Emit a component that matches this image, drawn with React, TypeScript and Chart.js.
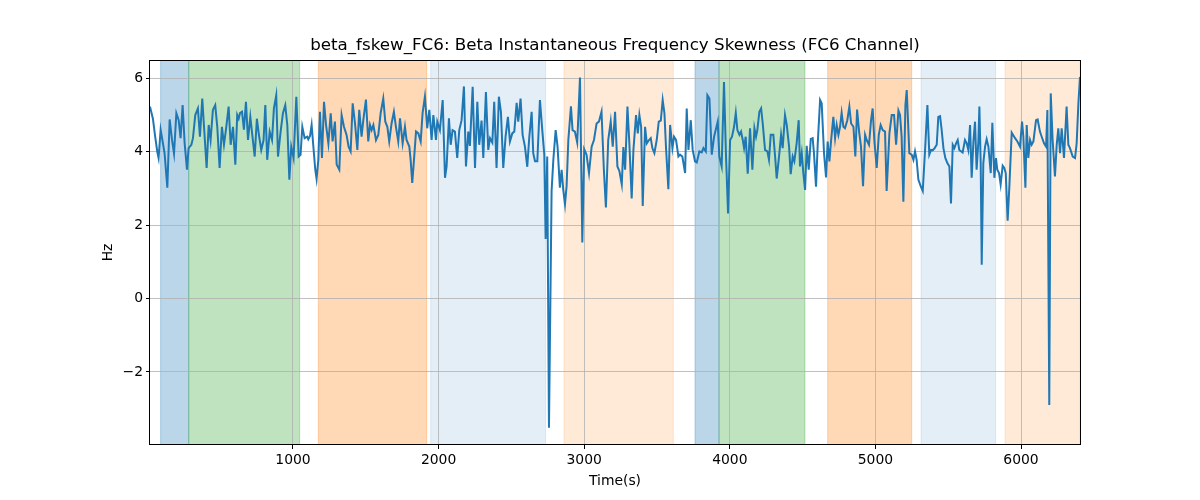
import React, { useEffect, useRef } from "react";
import { Chart, registerables } from "chart.js";

Chart.register(...registerables);

const TITLE = "beta_fskew_FC6: Beta Instantaneous Frequency Skewness (FC6 Channel)";
const X_LABEL = "Time(s)";
const Y_LABEL = "Hz";
const X_TICKS = [1000, 2000, 3000, 4000, 5000, 6000];
const Y_TICKS = [-2, 0, 2, 4, 6];
const Y_MIN = -3.99;
const Y_MAX = 6.5;

// time (s) and skewness (Hz), read segment by segment
const TIME_A = [18, 38, 54, 68, 77, 91, 107, 118, 137, 153, 169, 183, 199, 215, 228, 242, 256, 272, 283, 302, 313, 329, 347, 361, 377, 389, 407, 421, 434, 450, 466, 480, 496, 512, 526, 542, 558, 572, 588, 604, 617, 627, 636, 650, 663, 677, 691, 707, 718, 737, 752, 766, 782, 798, 810, 823, 840, 856, 869, 885, 897, 915, 931, 947, 961, 975, 988, 1004, 1023, 1039, 1052, 1064, 1080, 1098];
const HZ_A = [5.23, 4.9, 4.4, 4.0, 3.83, 4.6, 4.23, 3.96, 3.02, 4.88, 4.33, 3.95, 5.05, 4.86, 4.37, 5.27, 4.23, 3.51, 4.1, 4.19, 4.37, 5.0, 5.18, 4.41, 5.45, 4.68, 3.56, 4.73, 4.32, 5.14, 5.27, 4.68, 3.56, 4.68, 4.19, 4.68, 5.23, 4.19, 4.68, 3.65, 5.0, 4.9, 5.05, 5.09, 4.6, 5.36, 4.32, 4.95, 4.55, 3.87, 4.9, 4.46, 4.05, 4.32, 5.27, 3.78, 4.55, 4.32, 5.18, 5.54, 3.87, 4.55, 5.05, 5.27, 4.73, 3.24, 4.14, 3.83, 5.5, 3.87, 3.92, 4.68, 4.37, 4.41];

const TIME_B = [1105, 1117, 1128, 1140, 1153, 1162, 1174, 1185, 1199, 1213, 1227, 1243, 1259, 1272, 1288, 1300, 1318, 1334, 1350, 1368, 1382, 1396, 1410, 1426, 1442, 1455, 1471, 1483, 1501, 1517, 1529, 1540, 1552, 1570, 1586, 1602, 1620, 1634, 1648, 1661, 1677, 1693, 1707, 1723, 1735, 1753, 1769, 1780, 1799, 1808, 1819, 1831, 1845, 1861, 1877, 1890, 1906, 1922, 1936, 1952, 1964, 1982, 1991, 2009, 2028, 2044, 2055, 2071, 2083, 2096, 2112, 2128, 2142];
const HZ_B = [4.34, 4.43, 4.73, 4.14, 3.51, 3.26, 3.78, 5.09, 3.83, 5.36, 4.73, 4.23, 5.05, 4.28, 4.82, 3.65, 3.51, 5.0, 4.68, 4.46, 4.14, 4.01, 5.32, 4.77, 4.05, 5.14, 4.41, 4.86, 5.42, 4.28, 4.73, 4.59, 4.73, 4.32, 4.46, 5.05, 5.45, 4.82, 4.68, 4.28, 4.77, 5.09, 4.68, 4.28, 4.91, 4.23, 4.68, 4.32, 4.14, 3.78, 3.15, 3.78, 4.55, 4.5, 4.28, 5.05, 5.5, 4.64, 5.14, 4.32, 5.0, 4.32, 4.82, 4.59, 5.41, 3.29, 3.6, 4.91, 4.19, 4.59, 4.55, 3.83, 4.59];

const TIME_C = [2158, 2174, 2188, 2204, 2215, 2234, 2250, 2266, 2279, 2295, 2307, 2325, 2341, 2353, 2369, 2382, 2398, 2414, 2428, 2444, 2460, 2476, 2490, 2506, 2520, 2536, 2547, 2563, 2577, 2593, 2609, 2623, 2639, 2650, 2662, 2678, 2696, 2712, 2726, 2735, 2746, 2758, 2776, 2788, 2804, 2817, 2833, 2845, 2856, 2868, 2879, 2891, 2909, 2920, 2936, 2952, 2971, 2987, 3000, 3016, 3033, 3051, 3067, 3085, 3101, 3119, 3135, 3149, 3165];
const HZ_C = [4.86, 5.78, 3.6, 4.55, 4.16, 5.77, 3.56, 5.36, 4.19, 4.85, 3.83, 5.63, 4.05, 4.37, 4.25, 5.36, 3.56, 5.5, 5.09, 3.56, 4.41, 4.95, 4.28, 4.5, 4.55, 5.33, 4.82, 5.45, 4.46, 4.14, 3.59, 4.41, 5.09, 3.96, 3.74, 3.74, 5.41, 4.59, 3.92, 1.62, 3.87, -3.52, 2.93, 3.78, 4.59, 4.14, 3.02, 3.51, 2.97, 2.57, 3.06, 4.32, 5.24, 4.59, 4.55, 4.25, 6.02, 1.53, 4.07, 3.92, 3.42, 4.14, 4.32, 4.77, 4.82, 5.09, 3.51, 2.48, 4.32];

const TIME_D = [3182, 3196, 3212, 3228, 3242, 3258, 3269, 3281, 3297, 3310, 3326, 3338, 3356, 3368, 3379, 3391, 3402, 3418, 3430, 3445, 3457, 3468, 3482, 3498, 3512, 3526, 3539, 3551, 3562, 3578, 3590, 3606, 3617, 3631, 3647, 3658, 3674, 3693, 3704, 3716, 3732, 3745, 3761, 3773, 3791, 3807, 3819, 3835, 3846, 3860, 3876, 3892, 3906, 3917, 3928, 3944, 3960, 3974, 3988, 4002, 4015, 4029, 4041, 4052, 4066, 4077, 4089, 4098, 4109, 4123, 4139, 4155, 4169, 4180, 4189, 4203];
const HZ_D = [4.82, 4.14, 5.09, 3.6, 3.47, 3.11, 4.13, 3.51, 5.23, 4.23, 2.73, 4.05, 5.0, 4.5, 5.0, 4.68, 2.52, 4.68, 4.23, 4.32, 4.37, 4.1, 3.96, 4.32, 4.82, 4.85, 5.41, 5.05, 4.1, 2.98, 4.73, 4.1, 4.41, 4.32, 3.87, 3.92, 3.87, 3.42, 5.18, 4.05, 4.86, 4.05, 3.74, 3.71, 4.01, 3.98, 4.1, 4.01, 5.54, 5.45, 3.92, 4.41, 4.64, 4.82, 3.87, 3.6, 5.9, 3.87, 2.32, 4.32, 4.41, 4.68, 5.06, 4.59, 4.46, 4.55, 4.32, 4.1, 4.41, 3.4, 4.64, 3.51, 4.64, 4.41, 4.59, 5.09];

const TIME_E = [4215, 4226, 4242, 4258, 4269, 4281, 4299, 4311, 4322, 4338, 4352, 4363, 4379, 4391, 4407, 4418, 4432, 4443, 4459, 4473, 4482, 4494, 4505, 4517, 4528, 4542, 4556, 4569, 4578, 4592, 4604, 4620, 4631, 4647, 4661, 4672, 4684, 4695, 4711, 4723, 4734, 4746, 4757, 4768, 4780, 4791, 4807, 4821, 4833, 4849, 4862, 4874, 4888, 4901, 4915, 4929, 4940, 4956, 4970, 4981, 4993, 5009, 5023, 5036, 5050, 5066, 5077, 5096, 5112, 5128, 5142, 5158, 5169, 5180, 5192, 5206, 5215];
const HZ_E = [5.18, 4.77, 4.05, 4.01, 3.78, 4.46, 4.46, 3.87, 3.27, 3.87, 4.46, 4.1, 5.0, 4.73, 4.14, 3.39, 3.87, 3.74, 4.23, 4.86, 3.6, 3.96, 3.42, 2.96, 4.16, 3.51, 4.35, 4.37, 3.96, 3.05, 4.23, 5.41, 5.32, 3.96, 3.3, 4.28, 3.74, 4.28, 4.95, 4.37, 4.73, 4.46, 4.68, 5.06, 4.68, 4.64, 4.86, 5.23, 4.77, 4.68, 3.87, 5.15, 4.55, 4.14, 3.06, 4.46, 4.32, 4.19, 4.86, 5.18, 4.28, 3.56, 4.46, 4.73, 4.59, 4.55, 2.93, 4.5, 5.0, 5.0, 4.19, 5.12, 5.0, 4.41, 2.64, 5.27, 5.68];

const TIME_F = [5233, 5249, 5261, 5272, 5283, 5295, 5311, 5325, 5341, 5357, 5370, 5382, 5393, 5407, 5421, 5432, 5444, 5455, 5467, 5480, 5494, 5508, 5519, 5531, 5542, 5554, 5565, 5576];
const HZ_F = [3.96, 3.92, 3.78, 4.01, 3.78, 3.24, 3.06, 2.93, 4.05, 5.27, 3.92, 4.05, 4.04, 4.1, 4.19, 4.95, 4.97, 4.59, 4.1, 3.83, 3.69, 3.6, 2.59, 4.19, 4.1, 4.23, 4.32, 4.05];

const TIME_G = [5599, 5615, 5627, 5638, 5650, 5661, 5673, 5684, 5695, 5707, 5714, 5723, 5730, 5741, 5753, 5764, 5776, 5792, 5803, 5817, 5828, 5837, 5849, 5860, 5874, 5885, 5895, 5908, 5920, 5936, 5959, 5975, 5993, 6007, 6016, 6030, 6039, 6050, 6062, 6073, 6085, 6103, 6114, 6130, 6142, 6158, 6172, 6181, 6194, 6204, 6217, 6233, 6245, 6256, 6268, 6279, 6295, 6313, 6325, 6336, 6355, 6371, 6382, 6394, 6405];
const HZ_G = [3.98, 4.32, 4.23, 4.05, 4.73, 3.29, 4.28, 4.82, 3.51, 4.28, 5.23, 3.69, 0.92, 3.69, 4.14, 4.34, 4.14, 3.42, 4.79, 3.29, 3.83, 3.51, 3.42, 3.11, 3.62, 3.56, 3.42, 2.12, 3.06, 4.52, 4.37, 4.28, 4.14, 4.82, 4.41, 3.02, 4.73, 3.83, 4.32, 4.19, 4.28, 4.86, 4.88, 4.55, 4.41, 4.23, 4.14, 5.14, -2.9, 5.59, 4.32, 3.33, 4.19, 4.64, 3.96, 4.64, 3.83, 5.23, 4.19, 4.1, 3.87, 3.83, 4.23, 5.32, 6.04];

// shaded intervals (s)
const SPAN_START = [91, 284, 1174, 1946, 2861, 3761, 3926, 4672, 5313, 5890];
const SPAN_END = [284, 1046, 1918, 2735, 3612, 3926, 4516, 5249, 5826, 6405];
const SPAN_KIND = ["blue", "green", "orange", "paleBlue", "paleOrange", "blue", "green", "orange", "paleBlue", "paleOrange"];

const SPAN_STYLE: Record<string, string> = {
  blue: "rgba(31,119,180,0.3)",
  green: "rgba(44,160,44,0.3)",
  orange: "rgba(255,127,14,0.3)",
  paleBlue: "rgba(31,119,180,0.12)",
  paleOrange: "rgba(255,127,14,0.16)",
};

const FONT = "'DejaVu Sans', 'Liberation Sans', sans-serif";

const TIMES = [...TIME_A, ...TIME_B, ...TIME_C, ...TIME_D, ...TIME_E, ...TIME_F, ...TIME_G];
const VALUES = [...HZ_A, ...HZ_B, ...HZ_C, ...HZ_D, ...HZ_E, ...HZ_F, ...HZ_G];

const decorPlugin = {
  id: "decor",
  beforeDraw(chart: any) {
    const { ctx, chartArea: a, scales } = chart;
    ctx.save();
    ctx.fillStyle = "#ffffff";
    ctx.fillRect(0, 0, chart.width, chart.height);
    const xs = scales.x;
    SPAN_START.forEach((s, i) => {
      const x0 = xs.getPixelForValue(s);
      const x1 = xs.getPixelForValue(SPAN_END[i]);
      const c = SPAN_STYLE[SPAN_KIND[i]];
      ctx.fillStyle = c;
      ctx.fillRect(x0, a.top, x1 - x0, a.bottom - a.top);
      ctx.strokeStyle = c;
      ctx.lineWidth = 1;
      ctx.beginPath();
      ctx.moveTo(x0, a.top);
      ctx.lineTo(x0, a.bottom);
      ctx.moveTo(x1, a.top);
      ctx.lineTo(x1, a.bottom);
      ctx.stroke();
    });
    ctx.restore();
  },
  afterDatasetsDraw(chart: any) {
    const { ctx, chartArea: a } = chart;
    ctx.save();
    ctx.strokeStyle = "#000";
    ctx.lineWidth = 1;
    ctx.strokeRect(Math.round(a.left) - 0.5, Math.round(a.top) + 0.5, Math.round(a.right - a.left) + 1, Math.round(a.bottom - a.top) - 1);
    ctx.restore();
  },
  afterDraw(chart: any) {
    const { ctx, chartArea: a } = chart;
    const cx = (a.left + a.right) / 2;
    ctx.save();
    ctx.fillStyle = "#000";
    ctx.textAlign = "center";
    ctx.textBaseline = "middle";
    ctx.font = `16.7px ${FONT}`;
    ctx.fillText(TITLE, cx, 46);
    ctx.font = `13.9px ${FONT}`;
    ctx.fillText(X_LABEL, cx, 481);
    ctx.translate(108, (a.top + a.bottom) / 2);
    ctx.rotate(-Math.PI / 2);
    ctx.fillText(Y_LABEL, 0, 0);
    ctx.restore();
  },
};

function ChartView() {
  const ref = useRef<HTMLCanvasElement | null>(null);
  useEffect(() => {
    if (!ref.current) return;
    Chart.defaults.font.family = FONT;
    const data = TIMES.map((t, i) => ({ x: t, y: VALUES[i] }));
    const chart = new Chart(ref.current, {
      type: "line",
      data: {
        datasets: [
          {
            data,
            borderColor: "#1f77b4",
            borderWidth: 2,
            pointRadius: 0,
            pointHoverRadius: 0,
            fill: false,
            tension: 0,
          },
        ],
      },
      options: {
        animation: false,
        responsive: false,
        devicePixelRatio: 1,
        events: [],
        layout: { padding: { left: 0, right: 120, top: 60, bottom: 0 } },
        plugins: { legend: { display: false }, title: { display: false }, tooltip: { enabled: false } },
        scales: {
          x: {
            type: "linear",
            min: TIMES[0],
            max: TIMES[TIMES.length - 1],
            afterFit: (s: any) => {
              s.height = 55;
            },
            afterBuildTicks: (s: any) => {
              s.ticks = X_TICKS.map((v) => ({ value: v }));
            },
            border: { display: false },
            grid: { color: "#b0b0b0", lineWidth: 0.8, tickColor: "#000", tickLength: 4, tickWidth: 1 },
            ticks: { color: "#000", font: { size: 13.9 }, padding: 3, maxRotation: 0, autoSkip: false, callback: (v: any) => String(v) },
          },
          y: {
            type: "linear",
            min: Y_MIN,
            max: Y_MAX,
            afterFit: (s: any) => {
              s.width = 150;
            },
            afterBuildTicks: (s: any) => {
              s.ticks = Y_TICKS.map((v) => ({ value: v }));
            },
            border: { display: false },
            grid: { color: "#b0b0b0", lineWidth: 0.8, tickColor: "#000", tickLength: 4, tickWidth: 1 },
            ticks: { color: "#000", font: { size: 13.9 }, padding: 3, autoSkip: false, callback: (v: any) => String(v).replace("-", "\u2212") },
          },
        },
      },
      plugins: [decorPlugin],
    });
    return () => chart.destroy();
  }, []);
  return <canvas ref={ref} width={1200} height={500} style={{ display: "block", width: 1200, height: 500 }} />;
}

export default function App() {
  useEffect(() => {
    document.body.style.margin = "0";
  }, []);
  return (
    <div style={{ position: "fixed", left: 0, top: 0, width: 1200, height: 500, background: "#fff" }}>
      <ChartView />
    </div>
  );
}
